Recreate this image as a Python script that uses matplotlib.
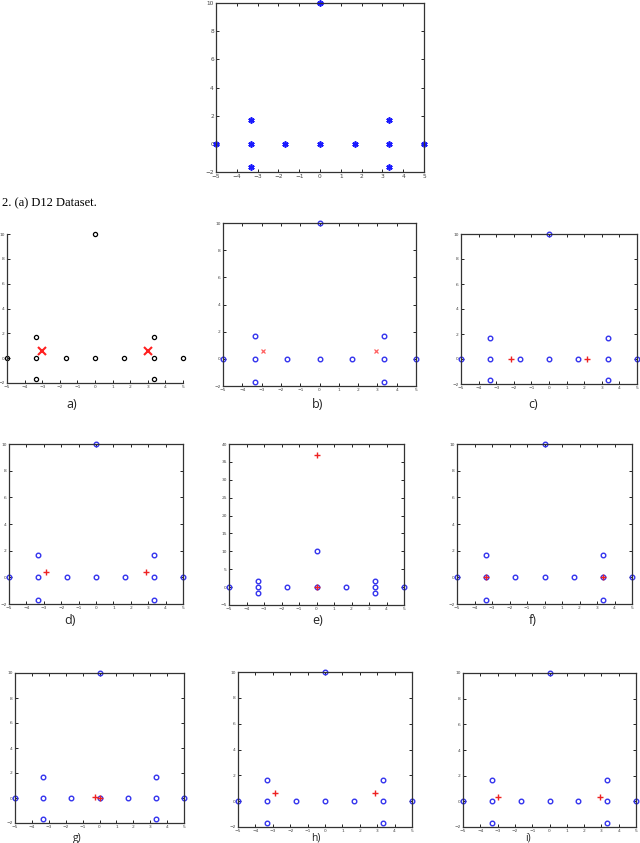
import numpy as np
import matplotlib
matplotlib.use('Agg')
import matplotlib.pyplot as plt

# D12 dataset points
x_pts = [-5, -3.33, -3.33, -3.33, -1.67, 0, 1.67, 3.33, 3.33, 3.33, 5, 0]
y_pts = [0, 1.67, 0, -1.67, 0, 0, 0, 1.67, 0, -1.67, 0, 10]

# cluster centres found in each panel (a..i)
cx_a, cy_a = [-3.0, 3.0], [0.55, 0.55]
cx_b, cy_b = [-2.93, 2.95], [0.55, 0.55]
cx_c, cy_c = [-2.16, 2.16], [0.0, 0.0]
cx_d, cy_d = [-2.87, 2.86], [0.4, 0.4]
cx_e, cy_e = [0.0, 0.0], [36.9, 0.0]
cx_f, cy_f = [-3.33, 3.33], [0.05, 0.05]
cx_g, cy_g = [-0.25, 0.05], [0.05, 0.0]
cx_h, cy_h = [-2.88, 2.87], [0.6, 0.6]
cx_i, cy_i = [-2.98, 2.92], [0.3, 0.3]

panel_labels = ['a)', 'b)', 'c)', 'd)', 'e)', 'f)', 'g)', 'h)', 'i)']

W, H = 640, 843
fig = plt.figure(figsize=(W / 100, H / 100), dpi=100)


def add_ax(l, r, t, b):
    return fig.add_axes([l / W, 1 - b / H, (r - l) / W, (b - t) / H])


def style(ax, ylim, yticks, fs=3.2, box=True):
    ax.set_xlim(-5, 5)
    ax.set_ylim(*ylim)
    ax.set_xticks(range(-5, 6))
    ax.set_yticks(yticks)
    ax.tick_params(direction='in', length=2, width=0.6, labelsize=fs,
                   labelcolor='#444444', pad=1.5,
                   top=box, right=box)
    for s in ax.spines.values():
        s.set_linewidth(0.9)
        s.set_color('#333333')
    if not box:
        ax.spines['top'].set_visible(False)
        ax.spines['right'].set_visible(False)


# top: the dataset itself
ax = add_ax(216, 424, 3, 172)
ax.plot(x_pts, y_pts, ls='none', marker=(6, 2, 0), ms=4.5, mew=1.2,
        color='#1a1aff', clip_on=False)
style(ax, (-2, 10), range(-2, 11, 2), fs=4.2)

fig.text(0.003, 1 - 203 / H, '2. (a) D12 Dataset.', family='Liberation Serif',
         fontsize=9, va='center', ha='left')

boxes = [(7, 183, 234, 383), (223, 416, 223, 386), (461, 637, 234, 384),
         (9, 183, 444, 604), (229, 404, 444, 605), (457, 632, 444, 604),
         (15, 184, 673, 823), (238, 412, 672, 827), (463, 636, 673, 827)]
centres = [(cx_a, cy_a), (cx_b, cy_b), (cx_c, cy_c), (cx_d, cy_d), (cx_e, cy_e),
           (cx_f, cy_f), (cx_g, cy_g), (cx_h, cy_h), (cx_i, cy_i)]
label_pos = [(72, 404), (318, 404), (533, 404),
             (70, 621), (318, 621), (533, 621),
             (77, 838), (316, 838), (528, 838)]

for k, (bx, (cx, cy)) in enumerate(zip(boxes, centres)):
    ax = add_ax(*bx)
    if k == 0:
        ax.plot(x_pts, y_pts, ls='none', marker='o', ms=3, mew=0.9,
                mfc='none', mec='black', clip_on=False)
        ax.plot(cx, cy, ls='none', marker='x', ms=6, mew=1.5,
                color='#ff2020', clip_on=False)
        style(ax, (-2, 10), range(-2, 11, 2), box=False)
    else:
        ax.plot(x_pts, y_pts, ls='none', marker='o', ms=3.3, mew=1.0,
                mfc='none', mec='#3333ee', clip_on=False)
        if k == 1:
            ax.plot(cx, cy, ls='none', marker='x', ms=3.5, mew=0.9,
                    color='#ff6060', clip_on=False)
        else:
            ax.plot(cx, cy, ls='none', marker='+', ms=4, mew=1.0,
                    color='#ee2222', clip_on=False)
        if k == 4:
            style(ax, (-5, 40), range(-5, 41, 5))
        else:
            style(ax, (-2, 10), range(-2, 11, 2))
    lx, ly = label_pos[k]
    fs = 9 if k < 6 else 7.5
    fig.text(lx / W, 1 - ly / H, panel_labels[k], family='Open Sans',
             fontsize=fs, fontweight='medium', ha='center', va='center',
             color='#222222')

fig.savefig('out.png', dpi=100)
